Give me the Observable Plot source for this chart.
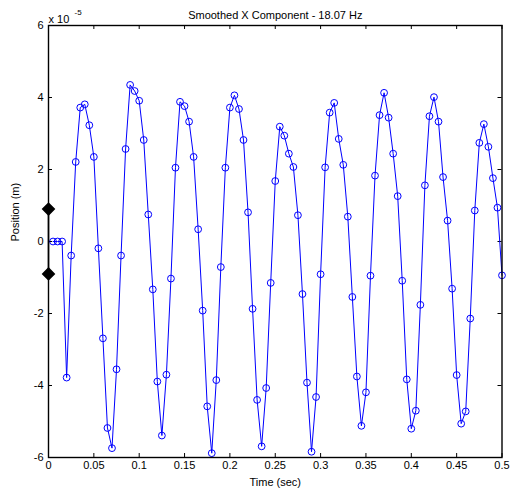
<!DOCTYPE html>
<html>
<head>
<meta charset="utf-8">
<script src="https://cdn.jsdelivr.net/npm/d3@7"></script>
<script src="https://cdn.jsdelivr.net/npm/@observablehq/plot@0.6"></script>
<style>
  html, body { margin: 0; padding: 0; background: #fff; }
  #chart svg { display: block; }
</style>
</head>
<body>
<div id="chart"></div>
<script>
// ---- Text ----
const titleText = "Smoothed X Component - 18.07 Hz";
const xLabelText = "Time (sec)";
const yLabelText = "Position (m)";
const exponentBase = "x 10";
const exponentPower = "-5";

// ---- Ticks ----
const xTicks = [0, 0.05, 0.1, 0.15, 0.2, 0.25, 0.3, 0.35, 0.4, 0.45, 0.5];
const yTicks = [-6, -4, -2, 0, 2, 4, 6];

// ---- Series: time (s) and position (units of 1e-5 m) ----
const timeSec = [
  0.005, 0.010, 0.015, 0.020, 0.025, 0.030, 0.035, 0.040, 0.045, 0.050,
  0.055, 0.060, 0.065, 0.070, 0.075, 0.080, 0.085, 0.090, 0.095, 0.100,
  0.105, 0.110, 0.115, 0.120, 0.125, 0.130, 0.135, 0.140, 0.145, 0.150,
  0.155, 0.160, 0.165, 0.170, 0.175, 0.180, 0.185, 0.190, 0.195, 0.200,
  0.205, 0.210, 0.215, 0.220, 0.225, 0.230, 0.235, 0.240, 0.245, 0.250,
  0.255, 0.260, 0.265, 0.270, 0.275, 0.280, 0.285, 0.290, 0.295, 0.300,
  0.305, 0.310, 0.315, 0.320, 0.325, 0.330, 0.335, 0.340, 0.345, 0.350,
  0.355, 0.360, 0.365, 0.370, 0.375, 0.380, 0.385, 0.390, 0.395, 0.400,
  0.405, 0.410, 0.415, 0.420, 0.425, 0.430, 0.435, 0.440, 0.445, 0.450,
  0.455, 0.460, 0.465, 0.470, 0.475, 0.480, 0.485, 0.490, 0.495, 0.500
];
const positionE5 = [
   0.00,  0.00,  0.00, -3.78, -0.39,  2.21,  3.72,  3.81,  3.23,  2.35,
  -0.19, -2.69, -5.18, -5.74, -3.55, -0.39,  2.57,  4.35,  4.18,  3.91,
   2.82,  0.75, -1.33, -3.89, -5.39, -3.70, -1.03,  2.05,  3.88,  3.76,
   3.33,  2.35,  0.34, -1.92, -4.58, -5.88, -3.85, -0.71,  2.05,  3.72,
   4.06,  3.68,  2.82,  0.81, -1.87, -4.40, -5.69, -4.07, -1.15,  1.68,
   3.19,  2.94,  2.44,  2.07,  0.73, -1.46, -3.92, -5.84, -4.32, -0.91,
   2.06,  3.58,  3.85,  2.85,  2.13,  0.69, -1.54, -3.75, -5.12, -4.19,
  -0.95,  1.83,  3.51,  4.13,  3.44,  2.44,  1.26, -1.09, -3.83, -5.20,
  -4.70, -1.76,  1.56,  3.48,  4.01,  3.33,  1.79,  0.58, -1.31, -3.71,
  -5.06, -4.72, -2.14,  0.86,  2.74,  3.26,  2.63,  1.76,  0.94, -0.94
];

// ---- Black diamond range markers on the y axis ----
const markerTime = [0, 0];
const markerPos = [0.9, -0.9];

// ---- Build ----
const W = 512, H = 495;
const mLeft = 48, mRight = 10.5, mTop = 25, mBottom = 38;
const plotW = W - mLeft - mRight, plotH = H - mTop - mBottom;
const tickLen = 4;

const series = timeSec.map((t, i) => ({t, v: positionE5[i]}));
const markers = markerTime.map((t, i) => ({t, v: markerPos[i]}));
const fmt = d => String(d);

const chart = Plot.plot({
  width: W,
  height: H,
  marginLeft: mLeft,
  marginRight: mRight,
  marginTop: mTop,
  marginBottom: mBottom,
  style: {
    fontFamily: "'Liberation Sans', Arial, Helvetica, sans-serif",
    fontSize: "11px",
    background: "#fff",
    color: "#000"
  },
  x: {domain: [0, 0.5]},
  y: {domain: [-6, 6]},
  marks: [
    // inward ticks (bottom, top, left, right)
    Plot.ruleX(xTicks, {insetTop: plotH - tickLen, stroke: "#000"}),
    Plot.ruleX(xTicks, {insetBottom: plotH - tickLen, stroke: "#000"}),
    Plot.ruleY(yTicks, {insetRight: plotW - tickLen, stroke: "#000"}),
    Plot.ruleY(yTicks, {insetLeft: plotW - tickLen, stroke: "#000"}),
    // tick labels
    Plot.axisX(xTicks, {tickSize: 0, tickPadding: 4, tickFormat: fmt, label: null, fill: "#000"}),
    Plot.axisY(yTicks, {tickSize: 0, tickPadding: 5, tickFormat: fmt, label: null, fill: "#000"}),
    // data
    Plot.line(series, {x: "t", y: "v", stroke: "#0000ff", strokeWidth: 1}),
    Plot.dot(series, {x: "t", y: "v", r: 3.4, stroke: "#0000ff", fill: "none", strokeWidth: 1}),
    // markers
    Plot.line(markers, {x: "t", y: "v", stroke: "#000", strokeWidth: 1.5}),
    Plot.dot(markers, {x: "t", y: "v", symbol: "diamond2", r: 5.2, fill: "#000", stroke: "#000"}),
    // box
    Plot.frame({stroke: "#000", strokeWidth: 1.4}),
    // texts
    Plot.text([titleText], {frameAnchor: "top", dy: -14, fill: "#000", fontSize: 11}),
    Plot.text([xLabelText], {frameAnchor: "bottom", dy: 28, fill: "#000", fontSize: 11}),
    Plot.text([yLabelText], {frameAnchor: "left", dx: -33, rotate: -90, fill: "#000", fontSize: 11}),
    Plot.text([exponentBase], {frameAnchor: "top-left", textAnchor: "start", dy: -10, dx: 0, fill: "#000", fontSize: 11}),
    Plot.text([exponentPower], {frameAnchor: "top-left", textAnchor: "start", dy: -16, dx: 26, fill: "#000", fontSize: 8})
  ]
});

document.getElementById("chart").appendChild(chart);
</script>
</body>
</html>
